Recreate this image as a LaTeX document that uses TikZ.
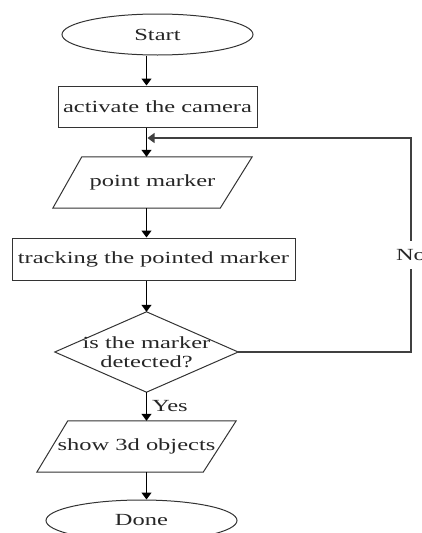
\documentclass[tikz,border=0pt]{standalone}
\usepackage{fontspec}
\setmainfont{Liberation Serif}[FakeStretch=1.44]
\usetikzlibrary{shapes.geometric,arrows.meta}
\begin{document}
\begin{tikzpicture}[x=1pt,y=-1pt,
  font=\fontsize{17}{18.5}\selectfont, text=black!85,
  term/.style={ellipse, draw=black!80, line width=1pt, minimum width=191pt, minimum height=41pt, inner sep=0pt},
  proc/.style={rectangle, draw=black!80, line width=1pt, inner sep=0pt},
  io/.style={rectangle, inner sep=0pt, minimum width=199pt, minimum height=51pt},
  shp/.style={draw=black!80, line width=1pt},
  arr/.style={line width=1.3pt, draw=black, -{Triangle[width=10pt,length=7pt]}},
]
\useasboundingbox (0,0) rectangle (422,533);
\coordinate (axis) at (146.5,0);
\node[term] (start) at (157.5,34.5) {Start};
\node[proc, minimum width=199pt, minimum height=41pt] (act) at (157.5,106.5) {activate the camera};
\node[io] (pm) at (152.5,182.5) {point marker};
\draw[shp] (pm.south west) -- ([xshift=29pt]pm.north west) -- (pm.north east) -- ([xshift=-32pt]pm.south east) -- cycle;
\node[proc, minimum width=283pt, minimum height=42pt] (tr) at (153.5,259) {tracking the pointed marker};
\node[rectangle, inner sep=0pt, minimum width=183pt, minimum height=80pt, align=center] (dec) at (146.5,352) {is the marker\\detected?};
\draw[shp] (dec.north) -- (dec.east) -- (dec.south) -- (dec.west) -- cycle;
\node[io] (s3d) at (136.5,446.5) {show 3d objects};
\draw[shp] (s3d.south west) -- ([xshift=31pt]s3d.north west) -- (s3d.north east) -- ([xshift=-33pt]s3d.south east) -- cycle;
\node[term] (done) at (141.5,520.5) {Done};
\draw[arr] (start.south -| axis) -- (act.north -| axis);
\draw[arr] (act.south -| axis) -- (pm.north -| axis);
\draw[arr] (pm.south -| axis) -- (tr.north -| axis);
\draw[arr] (tr.south -| axis) -- (dec.north);
\draw[arr] (dec.south) -- node[right, inner sep=5pt] {Yes} (s3d.north -| axis);
\draw[arr] (s3d.south -| axis) -- (done.north -| axis);
\coordinate (ret) at (411,138);
\coordinate (retin) at (147.5,138);
\draw[arr, draw=black!75] (dec.east) -| (ret) -- (retin);
\node[fill=white, inner xsep=1pt, inner ysep=8pt] (no) at (411,255) {No};
\end{tikzpicture}
\end{document}
